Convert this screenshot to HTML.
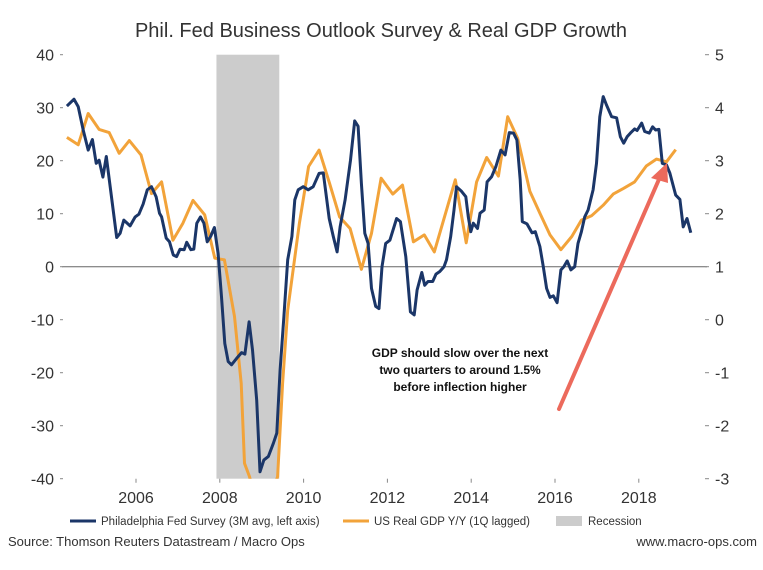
<!DOCTYPE html>
<html><head><meta charset="utf-8">
<style>
html,body{margin:0;padding:0;background:#fff;}
body{width:763px;height:565px;overflow:hidden;font-family:"Liberation Sans",Arial,sans-serif;}
svg text{font-family:"Liberation Sans",Arial,sans-serif;}
</style></head>
<body>
<svg id="chart" width="763" height="565" xmlns="http://www.w3.org/2000/svg">
<text x="381" y="37" text-anchor="middle" font-size="20" fill="#333">Phil. Fed Business Outlook Survey &amp; Real GDP Growth</text>
<defs><clipPath id="plotclip"><rect x="62" y="54.7" width="645" height="424"/></clipPath></defs>
<g id="recg"></g>
<g id="axes"></g>
<g id="series" clip-path="url(#plotclip)"></g>
<g>
<line x1="559" y1="409" x2="660" y2="177" stroke="#EC6A5C" stroke-width="4" stroke-linecap="round"/>
<polygon points="667,163 651,178 668,183" fill="#EC6A5C"/>
<text x="460" y="357" text-anchor="middle" font-size="12" font-weight="bold" fill="#111">GDP should slow over the next</text>
<text x="460" y="374" text-anchor="middle" font-size="12" font-weight="bold" fill="#111">two quarters to around 1.5%</text>
<text x="460" y="391" text-anchor="middle" font-size="12" font-weight="bold" fill="#111">before inflection higher</text>
</g>
<g>
<line x1="70" y1="521" x2="96" y2="521" stroke="#1B3668" stroke-width="3"/>
<text x="101" y="525" font-size="11.5" fill="#333">Philadelphia Fed Survey (3M avg, left axis)</text>
<line x1="343" y1="521" x2="369" y2="521" stroke="#F2A33A" stroke-width="3"/>
<text x="374" y="525" font-size="11.5" fill="#333">US Real GDP Y/Y (1Q lagged)</text>
<rect x="556" y="516" width="26" height="10" fill="#CCCCCC"/>
<text x="588" y="525" font-size="11.5" fill="#333">Recession</text>
</g>
<text x="8" y="546" font-size="13" fill="#333">Source: Thomson Reuters Datastream / Macro Ops</text>
<text x="757" y="546" text-anchor="end" font-size="13" fill="#333">www.macro-ops.com</text>
</svg>
<script>
const philYears=[2004.35,2004.52,2004.62,2004.74,2004.86,2004.96,2005.05,2005.12,2005.21,2005.29,2005.54,2005.62,2005.71,2005.86,2005.98,2006.07,2006.17,2006.27,2006.37,2006.48,2006.56,2006.61,2006.72,2006.80,2006.89,2006.97,2007.05,2007.15,2007.21,2007.31,2007.38,2007.45,2007.54,2007.62,2007.70,2007.78,2007.87,2007.96,2008.04,2008.12,2008.20,2008.28,2008.40,2008.52,2008.60,2008.70,2008.78,2008.88,2008.96,2009.05,2009.16,2009.28,2009.36,2009.44,2009.53,2009.62,2009.72,2009.79,2009.87,2009.99,2010.11,2010.23,2010.37,2010.47,2010.61,2010.71,2010.80,2010.87,2010.99,2011.12,2011.22,2011.30,2011.38,2011.46,2011.54,2011.62,2011.72,2011.80,2011.87,2011.96,2012.06,2012.22,2012.31,2012.44,2012.55,2012.64,2012.71,2012.82,2012.89,2012.97,2013.08,2013.16,2013.25,2013.35,2013.41,2013.51,2013.59,2013.65,2013.77,2013.87,2013.93,2013.99,2014.05,2014.15,2014.21,2014.31,2014.38,2014.49,2014.59,2014.71,2014.81,2014.91,2015.01,2015.09,2015.17,2015.22,2015.33,2015.45,2015.53,2015.64,2015.72,2015.80,2015.88,2015.96,2016.05,2016.14,2016.21,2016.29,2016.38,2016.47,2016.55,2016.63,2016.71,2016.79,2016.91,2016.99,2017.07,2017.15,2017.23,2017.35,2017.47,2017.56,2017.64,2017.72,2017.80,2017.90,2017.96,2018.07,2018.14,2018.25,2018.33,2018.40,2018.48,2018.56,2018.66,2018.74,2018.88,2018.98,2019.06,2019.15,2019.24,2019.31];
const philValues=[30.3,31.6,30.2,25.8,22.0,24.0,19.5,20.1,16.9,20.8,5.5,6.3,8.8,7.7,9.4,9.9,11.8,14.5,15.1,13.2,10.1,9.4,5.4,4.7,2.2,1.9,3.3,3.2,4.6,3.2,3.3,8.2,9.4,8.2,4.7,5.7,7.4,2.5,-5.7,-14.5,-17.9,-18.5,-17.3,-16.2,-16.5,-10.4,-15.7,-25.2,-38.7,-36.5,-35.8,-33.3,-31.4,-19.5,-9.4,1.3,5.7,12.6,14.5,15.1,14.5,15.1,17.6,17.7,9.1,5.7,2.8,7.5,12.6,20.1,27.5,26.5,15.7,6.3,4.4,-4.1,-7.5,-7.9,0,4.4,5.0,9.1,8.5,1.9,-8.5,-9.1,-4.4,-1.1,-3.5,-2.8,-2.8,-1.4,-0.9,0,1.3,5.7,10.7,15.1,14.2,13.2,9.4,6.6,8.2,7.2,10.1,10.7,16.0,17.0,18.9,22.0,21.1,25.3,25.2,23.9,16.4,8.5,8.1,6.4,6.6,3.8,0,-4.1,-5.8,-5.5,-6.8,-0.6,0,1.1,-0.6,0,4.4,6.6,9.4,10.7,14.5,19.5,28.3,32.1,30.5,28.3,28.1,24.5,23.3,24.5,25.2,26.0,25.7,27.1,25.5,25.2,26.4,25.8,25.9,19.5,19.2,17.7,13.5,12.7,7.5,9.1,6.4];
const gdpYears=[2004.35,2004.62,2004.86,2005.12,2005.36,2005.60,2005.84,2006.12,2006.37,2006.61,2006.88,2007.12,2007.36,2007.64,2007.88,2008.11,2008.35,2008.51,2008.59,2008.71,2009.0,2009.38,2009.50,2009.62,2009.90,2010.12,2010.37,2010.62,2010.86,2011.11,2011.38,2011.62,2011.85,2012.13,2012.36,2012.62,2012.88,2013.12,2013.62,2013.88,2014.13,2014.37,2014.65,2014.87,2015.11,2015.40,2015.64,2015.88,2016.14,2016.40,2016.63,2016.87,2017.15,2017.39,2017.64,2017.90,2018.18,2018.42,2018.66,2018.88];
const gdpValues=[3.44,3.30,3.89,3.59,3.53,3.14,3.38,3.11,2.38,2.60,1.50,1.82,2.25,1.98,1.16,1.13,0.06,-1.2,-2.71,-2.96,-3.9,-2.96,-1.2,0.18,1.82,2.89,3.20,2.57,1.94,1.72,0.95,1.63,2.67,2.37,2.54,1.47,1.60,1.28,2.64,1.45,2.60,3.06,2.71,3.83,3.42,2.42,2.01,1.60,1.32,1.57,1.88,1.96,2.16,2.37,2.48,2.60,2.90,3.03,2.98,3.21];
const recessionPeriod=[2007.92,2009.42];
const xTickYears=[2006,2008,2010,2012,2014,2016,2018];
const leftTicks=[40,30,20,10,0,-10,-20,-30,-40];
const rightTicks=[5,4,3,2,1,0,-1,-2,-3];

const X0=136, PXY=41.9, TOP=54.7, BOT=478.7, L=62, R=707;
function xs(yr){return X0+(yr-2006)*PXY;}
function yl(v){return 266.7-v*5.3;}
function yr(v){return 266.7-(v-1)*53;}
const NS='http://www.w3.org/2000/svg';
function mk(tag,attrs,parent){const e=document.createElementNS(NS,tag);for(const k in attrs)e.setAttribute(k,attrs[k]);parent.appendChild(e);return e;}

const recg=document.getElementById('recg');
const rr=mk('rect',{x:xs(recessionPeriod[0]),y:TOP,width:xs(recessionPeriod[1])-xs(recessionPeriod[0]),height:BOT-TOP,fill:'#CCCCCC'},recg);



const axes=document.getElementById('axes');
const zl=mk('line',{x1:L,x2:R,y1:yl(0),y2:yl(0),stroke:'#666','stroke-width':1},axes);


leftTicks.forEach(v=>{
  const t=mk('text',{x:54,y:yl(v)+6,'text-anchor':'end','font-size':16,fill:'#333'},axes);t.textContent=v;
  
  
  const tk=mk('line',{x1:L-2,x2:L+1,y1:yl(v),y2:yl(v),stroke:'#888'},axes);
  
  
});
rightTicks.forEach(v=>{
  const t=mk('text',{x:715,y:yr(v)+6,'font-size':16,fill:'#333'},axes);t.textContent=v;
  
  
  const tk=mk('line',{x1:R-2,x2:R+2,y1:yr(v),y2:yr(v),stroke:'#888'},axes);
  
  
});
xTickYears.forEach(y=>{
  const tk=mk('line',{x1:xs(y),x2:xs(y),y1:BOT,y2:BOT+4,stroke:'#888'},axes);
  
  
  const t=mk('text',{x:xs(y),y:503,'text-anchor':'middle','font-size':16,fill:'#333'},axes);t.textContent=y;
  
  
});

const series=document.getElementById('series');
const gp=mk('polyline',{points:gdpYears.map((y,i)=>xs(y).toFixed(1)+','+yr(gdpValues[i]).toFixed(1)).join(' '),fill:'none',stroke:'#F2A33A','stroke-width':3,'stroke-linejoin':'round'},series);


const pp=mk('polyline',{points:philYears.map((y,i)=>xs(y).toFixed(1)+','+yl(philValues[i]).toFixed(1)).join(' '),fill:'none',stroke:'#1B3668','stroke-width':3,'stroke-linejoin':'round'},series);


</script>
</body></html>
